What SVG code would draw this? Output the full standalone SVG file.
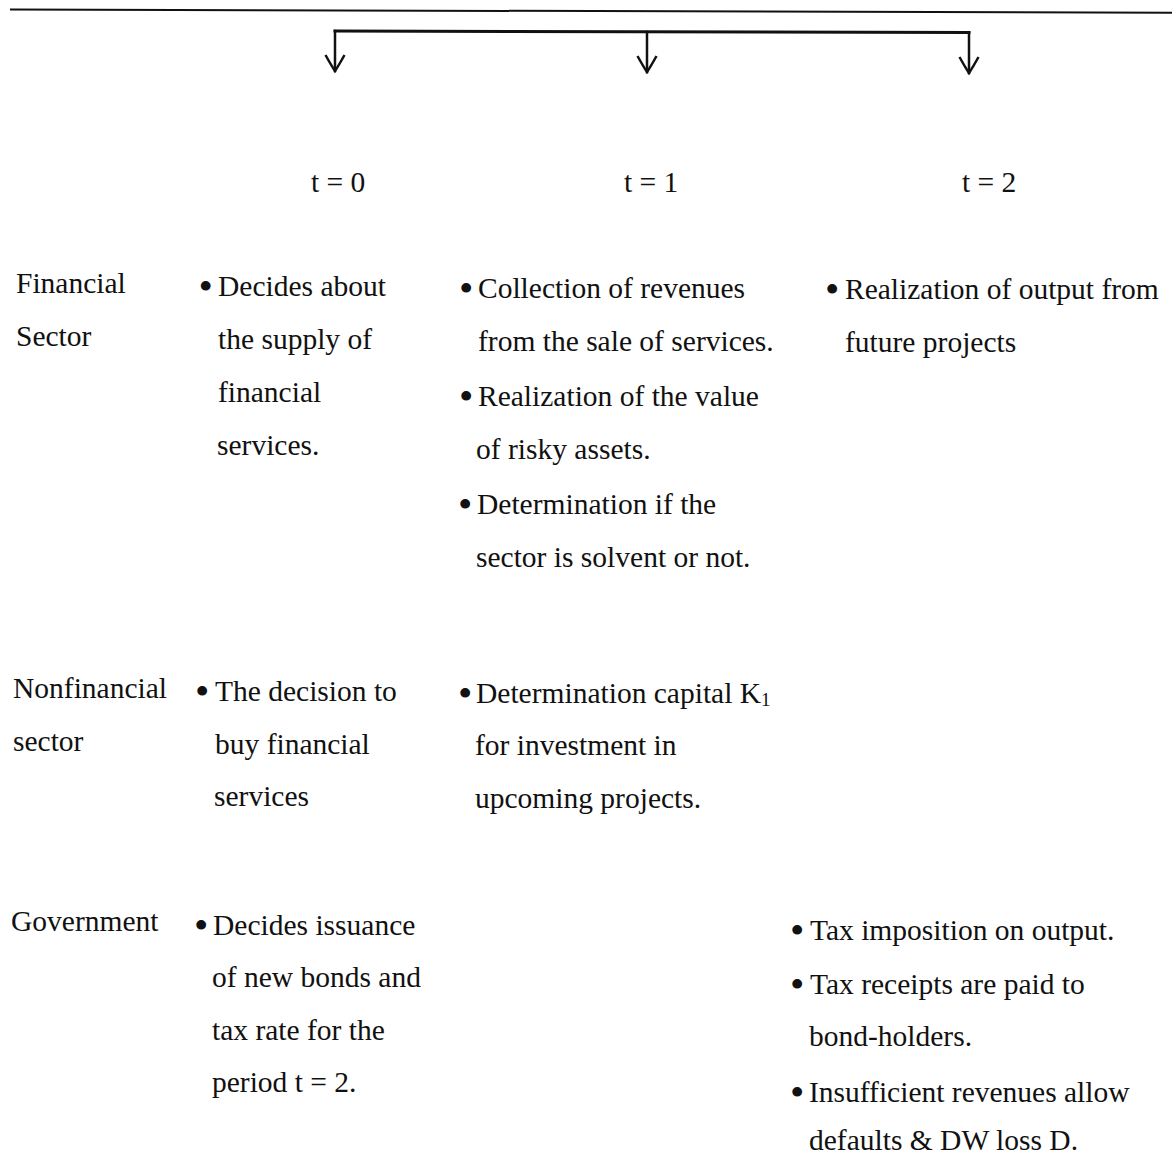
<svg xmlns="http://www.w3.org/2000/svg" width="1172" height="1155" viewBox="0 0 1172 1155">
<defs>
<style>
text{font-family:"Liberation Serif","Times New Roman",serif;font-size:29.5px;fill:#111}
text.b{font-size:41px}
.ln{stroke:#111;fill:none;stroke-linecap:square}
</style>
<marker id="ah" viewBox="-20 -12 24 24" refX="0" refY="0" markerWidth="24" markerHeight="24" markerUnits="userSpaceOnUse" orient="auto">
<path d="M-16,-9.5 Q-6,-4 0,0 Q-6,4 -16,9.5" fill="none" stroke="#111" stroke-width="2.5" stroke-linejoin="miter"/>
</marker>
</defs>
<rect width="1172" height="1155" fill="#fff"/>
<g id="connectors">
<path class="ln" d="M11,9.5 L1172,12.7" stroke-width="2"/>
<path class="ln" d="M335,31 L969,32.5" stroke-width="3"/>
<path class="ln" d="M335,31 L335,71" stroke-width="2.5" marker-end="url(#ah)"/>
<path class="ln" d="M647,32 L647,72" stroke-width="2.5" marker-end="url(#ah)"/>
<path class="ln" d="M969,32.5 L969,73" stroke-width="2.5" marker-end="url(#ah)"/>
</g>
<g id="t0"><text x="311" y="192">t = 0</text></g>
<g id="t1"><text x="624" y="192">t = 1</text></g>
<g id="t2"><text x="962" y="192">t = 2</text></g>
<g id="financial-sector">
<text x="16" y="293">Financial</text>
<text x="16" y="346">Sector</text>
</g>
<g id="fin-t0">
<text class="b" x="198.5" y="300">•</text>
<text x="218" y="296">Decides about</text>
<text x="218" y="349">the supply of</text>
<text x="218" y="402">financial</text>
<text x="217" y="455">services.</text>
</g>
<g id="fin-t1">
<text class="b" x="459" y="302">•</text>
<text x="478" y="298">Collection of revenues</text>
<text x="478" y="351">from the sale of services.</text>
<text class="b" x="459" y="410">•</text>
<text x="478" y="406">Realization of the value</text>
<text x="476" y="459">of risky assets.</text>
<text class="b" x="458" y="518">•</text>
<text x="477" y="514">Determination if the</text>
<text x="476" y="567">sector is solvent or not.</text>
</g>
<g id="fin-t2">
<text class="b" x="825" y="303">•</text>
<text x="845" y="299">Realization of output from</text>
<text x="845" y="352">future projects</text>
</g>
<g id="nonfinancial-sector">
<text x="13" y="698">Nonfinancial</text>
<text x="13" y="751">sector</text>
</g>
<g id="nonfin-t0">
<text class="b" x="195" y="705">•</text>
<text x="215" y="701">The decision to</text>
<text x="215" y="754">buy financial</text>
<text x="214" y="806">services</text>
</g>
<g id="nonfin-t1">
<text class="b" x="458" y="707">•</text>
<text x="476" y="703">Determination capital K<tspan font-size="19" dy="3">1</tspan></text>
<text x="475" y="755">for investment in</text>
<text x="475" y="808">upcoming projects.</text>
</g>
<g id="government">
<text x="11" y="931">Government</text>
</g>
<g id="gov-t0">
<text class="b" x="194" y="939">•</text>
<text x="213" y="935">Decides issuance</text>
<text x="212" y="987">of new bonds and</text>
<text x="212" y="1040">tax rate for the</text>
<text x="212" y="1092">period t = 2.</text>
</g>
<g id="gov-t2">
<text class="b" x="790" y="944">•</text>
<text x="810" y="940">Tax imposition on output.</text>
<text class="b" x="790" y="998">•</text>
<text x="810" y="994">Tax receipts are paid to</text>
<text x="809" y="1046">bond-holders.</text>
<text class="b" x="790" y="1106">•</text>
<text x="809" y="1102">Insufficient revenues allow</text>
<text x="809" y="1150">defaults &amp; DW loss D.</text>
</g>
</svg>
